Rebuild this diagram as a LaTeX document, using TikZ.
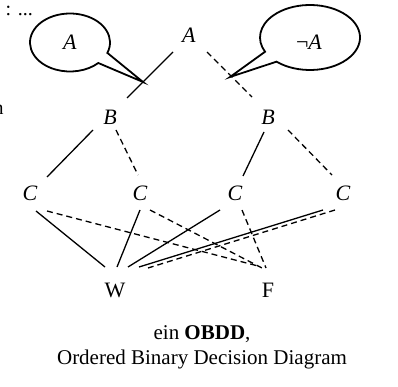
\documentclass[tikz,border=0pt]{standalone}
\usepackage{fontspec}
\setmainfont{Liberation Serif}
\begin{document}
\begin{tikzpicture}[x=1pt,y=-1pt,
  lbl/.style={inner sep=0pt,font=\fontsize{22}{26}\selectfont},
  fraglbl/.style={inner sep=0pt,font=\fontsize{20}{24}\selectfont},
  caplbl/.style={inner sep=0pt,font=\fontsize{21}{25}\selectfont},
  solidedge/.style={line width=1.3pt},
  dashededge/.style={line width=1.3pt,dash pattern=on 6pt off 4pt},
  callout/.style={line width=1.8pt,fill=white,line join=miter}]
\useasboundingbox (0,0) rectangle (398,387);
\clip (0,0) rectangle (398,387);
% clipped fragments at the left edge
\node[fraglbl,anchor=base east] (frag1) at (33,16) {: ...};
\node[fraglbl,anchor=base east] (frag2) at (3.8,115) {n};
% nodes
\node[lbl] (A) at (189,35) {\textit{A}};
\node[lbl] (Bl) at (110,117) {\textit{B}};
\node[lbl] (Br) at (268,117) {\textit{B}};
\node[lbl] (C1) at (30,193) {\textit{C}};
\node[lbl] (C2) at (140,193) {\textit{C}};
\node[lbl] (C3) at (235,193) {\textit{C}};
\node[lbl] (C4) at (343,193) {\textit{C}};
\node[lbl] (W) at (115,290) {W};
\node[lbl] (F) at (268,290) {F};
\node[caplbl,align=center] (cap) at (202,347) {ein \textbf{OBDD},\\Ordered Binary Decision Diagram};
% edges
\draw[solidedge] ([shift={(-16,17)}]A.center) -- ([shift={(17,-19)}]Bl.center);
\draw[dashededge] ([shift={(18,17)}]A.center) -- ([shift={(-16,-20)}]Br.center);
\draw[solidedge] ([shift={(-17,13)}]Bl.center) -- ([shift={(17,-16)}]C1.center);
\draw[dashededge] ([shift={(6,13)}]Bl.center) -- ([shift={(-2,-18)}]C2.center);
\draw[solidedge] ([shift={(-4,15)}]Br.center) -- ([shift={(8,-17)}]C3.center);
\draw[dashededge] ([shift={(20,13)}]Br.center) -- ([shift={(-11,-18)}]C4.center);
\draw[solidedge] ([shift={(6,18)}]C1.center) -- ([shift={(-10,-23)}]W.center);
\draw[dashededge] ([shift={(17,18)}]C1.center) -- ([shift={(-10,-24)}]F.center);
\draw[solidedge] ([shift={(0,17)}]C2.center) -- ([shift={(2,-23)}]W.center);
\draw[dashededge] ([shift={(10,17)}]C2.center) -- ([shift={(-6,-22)}]F.center);
\draw[solidedge] ([shift={(-15,17)}]C3.center) -- ([shift={(13,-23)}]W.center);
\draw[dashededge] ([shift={(7,17)}]C3.center) -- ([shift={(-2,-22)}]F.center);
\draw[solidedge] ([shift={(-20,17)}]C4.center) -- ([shift={(24,-23)}]W.center);
\draw[dashededge] ([shift={(-8,17)}]C4.center) -- ([shift={(33,-22)}]W.center);
% callouts
\coordinate (tipL) at (143,82);
\coordinate (tipR) at (230,77);
\draw[callout] (70,42.5) ++(-21:40pt and 29pt) arc[start angle=-21,end angle=315,x radius=40pt,y radius=29pt] -- (tipL) -- cycle;
\node[lbl] (calL) at (70,42) {\textit{A}};
\draw[callout] (310,37.5) ++(228:50pt and 32.5pt) arc[start angle=228,end angle=566,x radius=50pt,y radius=32.5pt] -- (tipR) -- cycle;
\node[lbl] (calR) at (309,42) {¬\textit{A}};
\end{tikzpicture}
\end{document}
